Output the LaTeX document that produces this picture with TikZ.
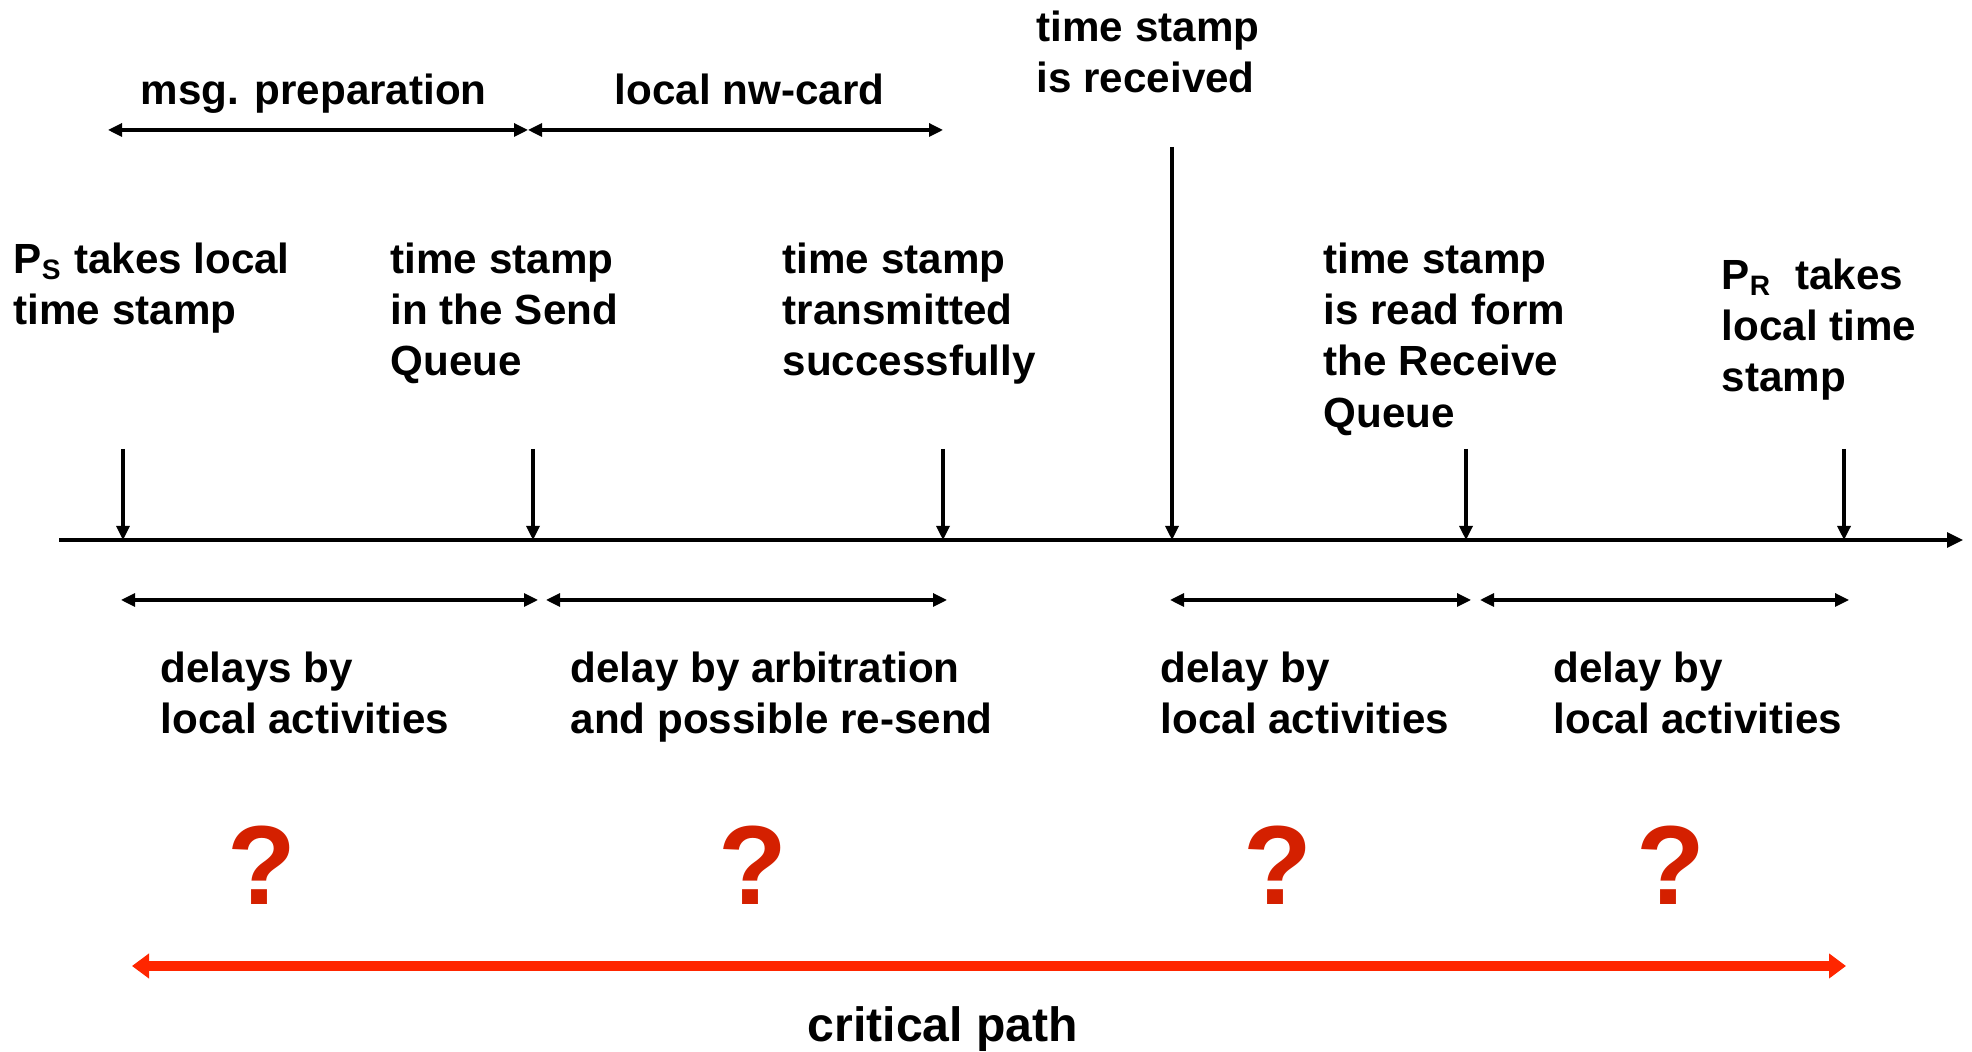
\documentclass[tikz,border=0pt]{standalone}
\usepackage{fontspec}
\setmainfont{Liberation Sans}
\usetikzlibrary{arrows.meta}
\definecolor{qred}{RGB}{212,32,0}
\definecolor{pathred}{RGB}{255,38,0}

\begin{document}
\begin{tikzpicture}[
  txt/.style={anchor=north west, inner sep=0pt, align=left,
    font=\fontsize{12}{14.6}\selectfont\bfseries},
  tick/.style={line width=0.9pt, -{Triangle[length=0.14cm,width=0.13cm]}},
  span/.style={line width=0.9pt, {Triangle[length=0.14cm,width=0.13cm]}-{Triangle[length=0.14cm,width=0.13cm]}},
  quest/.style={text=qred, inner sep=0pt, font=\fontsize{32}{36}\selectfont\bfseries}
]
\useasboundingbox (0,0) rectangle (19.72,-10.52);

\coordinate (A0) at (0.59,-5.40);
\coordinate (A1) at (19.63,-5.40);
\coordinate (T1) at (1.23,-5.40);
\coordinate (T2) at (5.33,-5.40);
\coordinate (T3) at (9.43,-5.40);
\coordinate (T4) at (11.72,-5.40);
\coordinate (T5) at (14.66,-5.40);
\coordinate (T6) at (18.44,-5.40);
\coordinate (T1') at (1.23,-4.49);
\coordinate (T2') at (5.33,-4.49);
\coordinate (T3') at (9.43,-4.49);
\coordinate (T4') at (11.72,-1.47);
\coordinate (T5') at (14.66,-4.49);
\coordinate (T6') at (18.44,-4.49);

\draw[tick, -{Triangle[length=0.16cm,width=0.15cm]}] (A0) to (A1);
\draw[tick] (T1') to (T1);
\draw[tick] (T2') to (T2);
\draw[tick] (T3') to (T3);
\draw[tick] (T4') to (T4);
\draw[tick] (T5') to (T5);
\draw[tick] (T6') to (T6);

% upper spans
\coordinate (M1) at (1.08,-1.30);
\coordinate (M2) at (5.28,-1.30);
\coordinate (M3) at (9.43,-1.30);
\draw[span] (M1) to (M2);
\draw[span] (M2) to (M3);
\node[txt] (msg) at (1.40,-0.73) {msg. preparation};
\node[txt] (nwcard) at (6.14,-0.73) {local nw-card};
\node[txt] (recv) at (10.36,-0.10) {time stamp\\is received};

% events
\node[txt] (ps) at (0.13,-2.42) {P\textsubscript{S} takes local\\time stamp};
\node[txt] (sendq) at (3.90,-2.42) {time stamp\\in the Send\\Queue};
\node[txt] (trans) at (7.82,-2.42) {time stamp\\transmitted\\successfully};
\node[txt] (readq) at (13.23,-2.42) {time stamp\\is read form\\the Receive\\Queue};
\node[txt] (pr) at (17.21,-2.58) {P\textsubscript{R}\ \ takes\\local time\\stamp};

% lower spans
\coordinate (D1) at (1.21,-6.00);
\coordinate (D2) at (5.38,-6.00);
\coordinate (D3) at (5.46,-6.00);
\coordinate (D4) at (9.47,-6.00);
\coordinate (D5) at (11.70,-6.00);
\coordinate (D6) at (14.71,-6.00);
\coordinate (D7) at (14.80,-6.00);
\coordinate (D8) at (18.49,-6.00);
\draw[span] (D1) to (D2);
\draw[span] (D3) to (D4);
\draw[span] (D5) to (D6);
\draw[span] (D7) to (D8);
\node[txt] (delay1) at (1.60,-6.51) {delays by\\local activities};
\node[txt] (delay2) at (5.70,-6.51) {delay by arbitration\\and possible re-send};
\node[txt] (delay3) at (11.60,-6.51) {delay by\\local activities};
\node[txt] (delay4) at (15.53,-6.51) {delay by\\local activities};

\node[quest] (q1) at (2.62,-8.65) {?};
\node[quest] (q2) at (7.53,-8.65) {?};
\node[quest] (q3) at (12.78,-8.65) {?};
\node[quest] (q4) at (16.71,-8.65) {?};

% critical path
\coordinate (C1) at (1.32,-9.66);
\coordinate (C2) at (18.46,-9.66);
\draw[pathred, line width=2.7pt, {Triangle[length=0.17cm,width=0.24cm]}-{Triangle[length=0.17cm,width=0.24cm]}] (C1) to (C2);
\node[txt, anchor=north, font=\fontsize{13.7}{16}\selectfont\bfseries] (crit) at (9.43,-10.06) {critical path};
\end{tikzpicture}
\end{document}
